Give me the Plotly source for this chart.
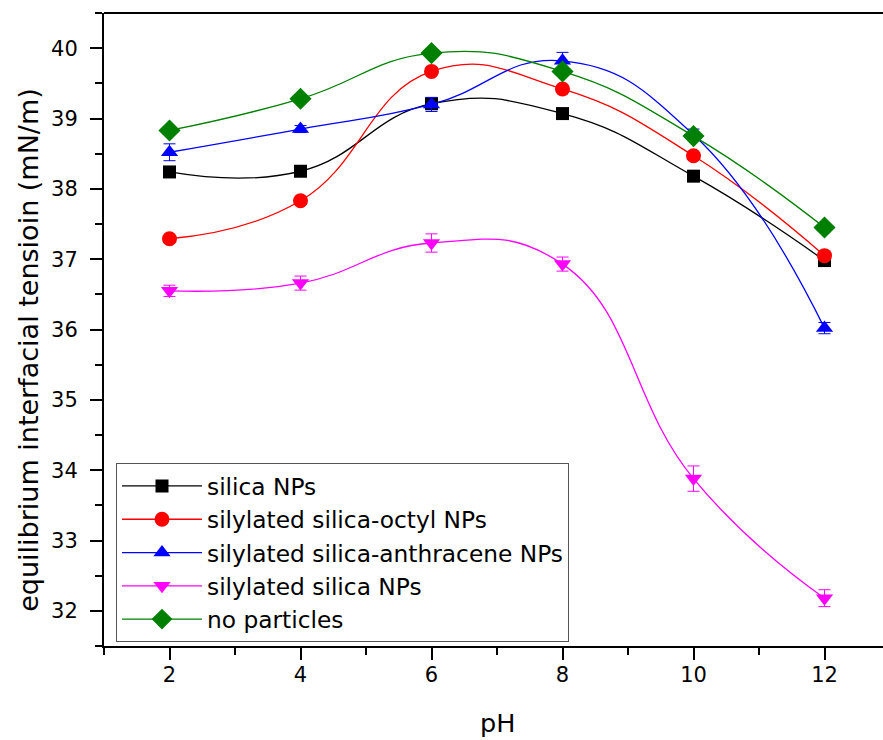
import plotly.graph_objects as go

# ---- data ----
ph = [2, 4, 6, 8, 10, 12]
silica_nps = [38.24, 38.25, 39.21, 39.07, 38.18, 36.98]
silica_octyl = [37.29, 37.83, 39.67, 39.42, 38.47, 37.05]
silica_anthracene = [38.52, 38.85, 39.20, 39.82, 38.77, 36.02]
silylated_silica = [36.55, 36.66, 37.23, 36.93, 33.88, 32.18]
no_particles = [38.83, 39.28, 39.93, 39.67, 38.75, 37.45]

err_silica = [0.05, 0.05, 0.05, 0.05, 0.05, 0.05]
err_octyl = [0.05, 0.05, 0.05, 0.05, 0.05, 0.05]
err_anthracene = [0.12, 0.05, 0.10, 0.12, 0.08, 0.08]
err_silylated = [0.08, 0.10, 0.13, 0.10, 0.18, 0.12]
err_none = [0.05, 0.05, 0.05, 0.05, 0.05, 0.05]

names = ["silica NPs", "silylated silica-octyl NPs", "silylated silica-anthracene NPs",
         "silylated silica NPs", "no particles"]
x_ticks = [2, 4, 6, 8, 10, 12]
y_ticks = [32, 33, 34, 35, 36, 37, 38, 39, 40]

series = [
    (silica_nps, err_silica, "#000000", "square", 13),
    (silica_octyl, err_octyl, "#FF0000", "circle", 15),
    (silica_anthracene, err_anthracene, "#0000FF", "triangle-up", 15),
    (silylated_silica, err_silylated, "#FF00FF", "triangle-down", 15),
    (no_particles, err_none, "#008000", "diamond", 17),
]

fig = go.Figure()
for name, (vals, errs, col, sym, size) in zip(names, series):
    fig.add_trace(go.Scatter(
        x=ph, y=vals, name=name, mode="lines+markers",
        line=dict(color=col, width=1.3, shape="spline", smoothing=1.3),
        marker=dict(color=col, symbol=sym, size=size, line=dict(width=0)),
        error_y=dict(type="data", array=errs, visible=True, color=col,
                     thickness=1, width=6),
    ))

font_family = "DejaVu Sans, Liberation Sans, Arial, sans-serif"
L, T = 104, 13
plot_w = 883 - L
px_per_unit = 65.5

fig.update_layout(
    width=883, height=740,
    margin=dict(l=L, r=0, t=T, b=94, pad=0),
    paper_bgcolor="white", plot_bgcolor="white",
    font=dict(family=font_family, color="black", size=21),
    showlegend=True,
    legend=dict(
        x=0.0154, y=0.2886, xanchor="left", yanchor="top",
        bordercolor="#555555", borderwidth=1, bgcolor="white",
        font=dict(size=23.3, family=font_family),
        itemwidth=80, tracegroupgap=0,
    ),
    xaxis=dict(
        range=[1, 1 + plot_w / px_per_unit],
        tickmode="array", tickvals=x_ticks, ticktext=[str(v) for v in x_ticks],
        ticks="outside", ticklen=12, tickwidth=2, tickcolor="black",
        showline=True, linewidth=2, linecolor="black",
        showgrid=False, zeroline=False,
        minor=dict(tickvals=[1, 3, 5, 7, 9, 11, 13], ticks="outside",
                   ticklen=7, tickwidth=2, tickcolor="black", showgrid=False),
        tickfont=dict(size=21), ticklabelstandoff=-3,
    ),
    yaxis=dict(
        range=[31.5, 40.5],
        tickmode="array", tickvals=y_ticks, ticktext=[str(v) for v in y_ticks],
        ticks="outside", ticklen=12, tickwidth=2, tickcolor="black",
        showline=True, linewidth=2, linecolor="black",
        showgrid=False, zeroline=False,
        minor=dict(tickvals=[31.5 + 0.5 * i for i in range(19)], ticks="outside",
                   ticklen=7, tickwidth=2, tickcolor="black", showgrid=False),
        tickfont=dict(size=21), ticklabelstandoff=8,
    ),
    shapes=[dict(type="line", xref="paper", yref="paper", x0=0, x1=1, y0=1, y1=1,
                 line=dict(color="black", width=2))],
    annotations=[
        dict(text="equilibrium interfacial tensioin (mN/m)", textangle=-90,
             xref="paper", yref="paper", x=(29 - L) / plot_w, y=(645.7 - 349.5) / 633,
             xanchor="center", yanchor="middle", showarrow=False,
             font=dict(size=27, family=font_family)),
        dict(text="pH", xref="x", yref="paper", x=7, y=(645.7 - 723) / 633,
             xanchor="center", yanchor="middle", showarrow=False,
             font=dict(size=25.5, family=font_family)),
    ],
)

fig.write_html("out.html")
